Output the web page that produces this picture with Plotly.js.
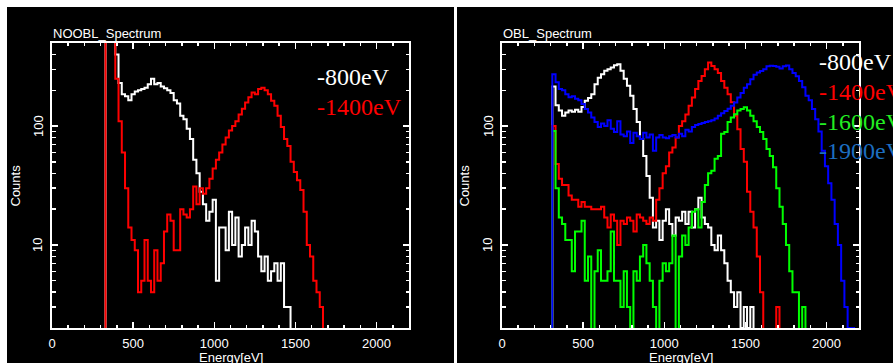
<!DOCTYPE html>
<html>
<head>
<meta charset="utf-8">
<script src="https://cdn.plot.ly/plotly-3.0.1.min.js"></script>
<style>html,body{margin:0;padding:0;background:#000;}#chart{width:893px;height:363px;}</style>
</head>
<body>
<div id="chart"></div>
<script>
// Bin start energies (eV), 20 eV bins
const energy = [290,310,330,350,370,390,410,430,450,470,490,
  510,530,550,570,590,610,630,650,670,690,
  710,730,750,770,790,810,830,850,870,890,
  910,930,950,970,990,1010,1030,1050,1070,1090,
  1110,1130,1150,1170,1190,1210,1230,1250,1270,1290,
  1310,1330,1350,1370,1390,1410,1430,1450,1470,1490,
  1510,1530,1550,1570,1590,1610,1630,1650,1670,1690,
  1710,1730,1750,1770,1790,1810,1830,1850,1870,1890,
  1910,1930,1950,1970,1990,2010,2030,2050,2070,2090,
  2110,2130,2150,2170,2190];

// NOOBL spectrum counts
const noobl800 = [1,1,1500,1200,900,400,230,185,178,165,185,
  195,200,205,210,225,250,225,230,215,208,
  200,190,165,155,122,114,95,78,52,40,
  28,22,16,19,24,5,14,14,9,19,
  10,17,8,10,14,10,16,13,8,6,
  8,5,6,7,5,7,3,3,1];
const noobl1400 = [1,1,3000,2000,1000,250,110,60,30,14,11,
  9,4,5,11,5,4,9,5,7,13,
  18,16,9,9,20,18,17,20,31,22,
  30,27,30,36,44,52,60,70,80,92,
  100,110,125,140,158,175,192,185,205,210,
  200,185,163,148,122,98,78,68,50,41,
  35,29,19,10,8,5,4,3,1];

// OBL spectrum counts
const obl800 = [1,215,150,135,122,130,135,132,137,132,145,
  163,172,185,225,255,273,292,300,311,325,
  332,292,250,218,180,139,108,78,56,38,
  25,14,16,11,16,20,15,12,17,16,
  19,15,19,14,20,25,17,15,14,10,
  9,12,9,7,5,4,3,4,2,3,
  2,3,1];
const obl1400 = [1,100,48,36,32,32,26,24,24,21,23,
  21,21,20,20,20,21,17,14,18,16,
  10,16,15,17,16,13,18,17,16,15,
  17,16,24,30,40,46,60,66,80,100,
  110,125,148,174,205,240,264,301,343,320,
  300,280,240,210,185,159,122,94,64,50,
  28,19,14,8,4,1,1,1,1,3,
  1];
const obl1600 = [1,91,30,17,15,11,11,6,13,13,16,
  5,8,1,6,9,5,5,6,13,5,
  5,3,6,3,1,6,5,8,10,7,
  5,3,1,5,7,6,7,12,1,8,
  12,10,14,19,20,14,23,32,40,42,
  53,56,86,89,108,118,126,135,139,144,
  135,122,110,98,89,78,64,56,45,30,
  21,15,10,6,4,4,1,3,1];
const obl1900 = [1,273,234,205,200,185,175,178,170,165,153,
  139,130,118,108,98,105,100,112,95,89,
  110,85,82,90,72,88,82,78,88,80,
  85,62,80,84,80,79,82,84,80,86,
  82,93,90,98,102,104,106,108,110,112,
  116,122,128,134,140,148,158,174,190,210,
  225,248,270,283,290,301,318,322,320,315,
  305,318,324,300,280,262,240,212,180,165,
  139,114,90,62,46,33,24,15,10,5,
  3,2,2,1];

const xTicks = [0,500,1000,1500,2000];
const yTicks = [10,100];
const yTickText = ['10','100'];
const yMinor = [2,3,4,5,6,7,8,9,20,30,40,50,60,70,80,90,200,300,400,500];

function step(vals, color, xa, ya) {
  return {x: energy.slice(0, vals.length), y: vals, type: 'scatter', mode: 'lines',
    line: {shape: 'hv', color: color, width: 2}, xaxis: xa, yaxis: ya,
    hoverinfo: 'skip', showlegend: false};
}

const traces = [
  step(noobl800, '#ffffff', 'x', 'y'),
  step(noobl1400, '#ff0000', 'x', 'y'),
  step(obl800, '#ffffff', 'x2', 'y2'),
  step(obl1400, '#ff0000', 'x2', 'y2'),
  step(obl1600, '#00ff00', 'x2', 'y2'),
  step(obl1900, '#0000ff', 'x2', 'y2')
];

const W = 893, H = 363;
const tickFont = {family: 'Liberation Sans, Arial, sans-serif', size: 13, color: '#ffffff'};
function xax(d0, d1, anchor) {
  return {domain: [d0 / W, d1 / W], anchor: anchor, range: [0, 2200], tickmode: 'array', tickvals: xTicks,
    showline: true, linecolor: '#ffffff', linewidth: 2, mirror: 'allticks', ticks: 'inside', ticklen: 6,
    tickwidth: 1.5, tickcolor: '#ffffff', showgrid: false, zeroline: false, tickfont: tickFont,
    ticklabelstandoff: 2,
    minor: {ticks: 'inside', dtick: 100, tick0: 0, ticklen: 3, tickwidth: 1.5, tickcolor: '#ffffff', showgrid: false}};
}
function yax(anchor) {
  return {domain: [35 / H, 320 / H], anchor: anchor, type: 'log', range: [Math.log10(2), Math.log10(500)],
    tickmode: 'array', tickvals: yTicks, showticklabels: false,
    showline: true, linecolor: '#ffffff', linewidth: 2, mirror: 'allticks', ticks: 'inside', ticklen: 6,
    tickwidth: 1.5, tickcolor: '#ffffff', showgrid: false, zeroline: false,
    minor: {ticks: 'inside', tickmode: 'array', tickvals: yMinor, ticklen: 3.5, tickwidth: 1.5, tickcolor: '#ffffff', showgrid: false}};
}

function px(x) { return x / W; }
function py(y) { return (H - y) / H; }
const sans = {family: 'Liberation Sans, Arial, sans-serif', size: 13, color: '#ffffff'};
function serif(c) { return {family: 'Liberation Serif, Times New Roman, serif', size: 24, color: c}; }
function ann(text, x, y, font, xanchor, angle) {
  return {text: text, x: px(x), y: py(y), xref: 'paper', yref: 'paper', xanchor: xanchor || 'left',
    yanchor: 'middle', showarrow: false, font: font, textangle: angle || 0};
}
function yLabel(i, x, yref) {
  return {text: yTickText[i], x: px(x), y: Math.log10(yTicks[i]), xref: 'paper', yref: yref,
    xanchor: 'center', yanchor: 'middle', showarrow: false, font: tickFont, textangle: -90};
}

const annotations = [
  ann('NOOBL_Spectrum', 51, 33, sans),
  ann('OBL_Spectrum', 501, 33, sans),
  ann('Energy[eV]', 230.5, 357, sans, 'center'),
  ann('Energy[eV]', 680.5, 357, sans, 'center'),
  ann('Counts', 15, 185.5, sans, 'center', -90),
  ann('Counts', 464, 185.5, sans, 'center', -90),
  yLabel(0, 38, 'y'), yLabel(1, 38, 'y'),
  yLabel(0, 488, 'y2'), yLabel(1, 488, 'y2'),
  ann('-800eV', 315, 77, serif('#ffffff')),
  ann('-1400eV', 315, 107, serif('#ff0000')),
  ann('-800eV', 817, 62, serif('#ffffff')),
  ann('-1400eV', 817, 92, serif('#ff0000')),
  ann('-1600eV', 817, 122, serif('#22ee22')),
  ann('-1900eV', 817, 151, serif('#1c6ec0'))
];

const shapes = [
  {type: 'rect', xref: 'paper', yref: 'paper', x0: 0, x1: 1, y0: py(7), y1: 1, fillcolor: '#ffffff', line: {width: 0}},
  {type: 'rect', xref: 'paper', yref: 'paper', x0: 0, x1: px(7), y0: 0, y1: 1, fillcolor: '#ffffff', line: {width: 0}},
  {type: 'rect', xref: 'paper', yref: 'paper', x0: px(454), x1: px(457), y0: 0, y1: 1, fillcolor: '#ffffff', line: {width: 0}}
];

const layout = {
  width: W, height: H, margin: {l: 0, r: 0, t: 0, b: 0},
  paper_bgcolor: '#000000', plot_bgcolor: '#000000', showlegend: false,
  xaxis: xax(52, 409, 'y'), yaxis: yax('x'),
  xaxis2: xax(502, 859, 'y2'), yaxis2: yax('x2'),
  annotations: annotations, shapes: shapes
};

Plotly.newPlot('chart', traces, layout, {displayModeBar: false, staticPlot: true});
</script>
</body>
</html>
